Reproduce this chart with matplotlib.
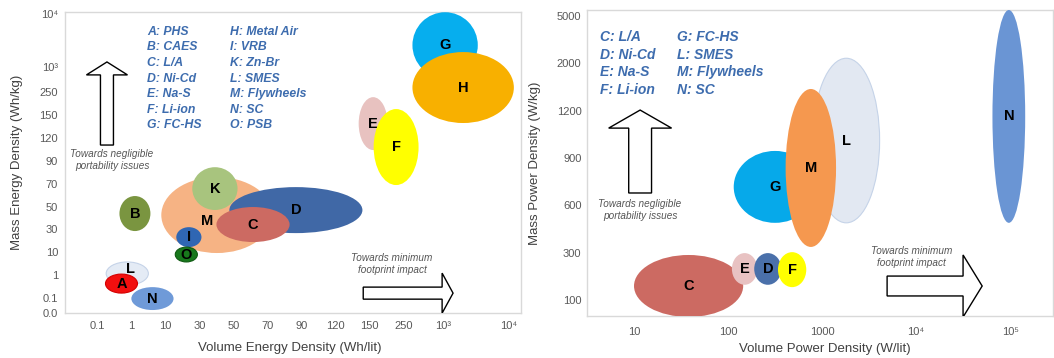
import numpy as np
import matplotlib
matplotlib.use('Agg')
import matplotlib.pyplot as plt
from matplotlib.patches import Ellipse, FancyArrow

plt.rcParams['font.family'] = ['Liberation Sans', 'DejaVu Sans']

# === Left chart: energy densities (axes are category-index scales) ===
energy_x_ticks = ['0.1', '1', '10', '30', '50', '70', '90', '120', '150', '250', '10³', '10⁴']
energy_x_pos = [1, 2, 3, 4, 5, 6, 7, 8, 9, 10, 11.15, 13.1]
energy_y_ticks = ['0.0', '0.1', '1', '10', '30', '50', '70', '90', '120', '150', '250', '10³', '10⁴']
energy_y_pos = [0.35, 1, 2, 3, 4, 5, 6, 7, 8, 9, 10, 11.1, 13.4]

# drawing order matters: later ones sit on top
energy_tech = ['B', 'M', 'K', 'D', 'C', 'I', 'O', 'L', 'A', 'N', 'E', 'F', 'G', 'H']
energy_x_lo = [1.65, 2.88, 3.79, 4.88, 4.50, 3.32, 3.29, 1.26, 1.24, 2.00, 8.68, 9.12, 10.26, 10.26]
energy_x_hi = [2.56, 6.15, 5.12, 8.79, 6.65, 4.06, 3.94, 2.50, 2.18, 3.24, 9.53, 10.44, 12.18, 13.24]
energy_y_lo = [3.93, 2.97, 4.85, 3.84, 3.45, 3.23, 2.58, 1.57, 1.22, 0.48, 7.47, 5.94, 10.61, 8.65]
energy_y_hi = [5.46, 6.29, 6.72, 5.85, 4.98, 4.10, 3.23, 2.58, 2.05, 1.48, 9.78, 9.26, 13.49, 11.75]
energy_label_at = {'M': (4.24, 4.37), 'L': (1.97, 2.27)}

energy_legend_1 = ['A: PHS', 'B: CAES', 'C: L/A', 'D: Ni-Cd', 'E: Na-S', 'F: Li-ion', 'G: FC-HS']
energy_legend_2 = ['H: Metal Air', 'I: VRB', 'K: Zn-Br', 'L: SMES', 'M: Flywheels', 'N: SC', 'O: PSB']

# === Right chart: power densities (x is W/lit on log axis, y category index) ===
power_x_ticks = ['10', '100', '1000', '10⁴', '10⁵']
power_x_vals = [10, 100, 1000, 1e4, 1e5]
power_y_ticks = ['100', '300', '600', '900', '1200', '2000', '5000']
power_y_pos = [0, 1, 2, 3, 4, 5, 6]

power_tech = ['L', 'G', 'M', 'N', 'C', 'E', 'D', 'F']
power_x_lo = [800, 115, 410, 65000, 10, 110, 190, 340]
power_x_hi = [4100, 870, 1410, 145000, 145, 205, 370, 680]
power_y_lo = [1.63, 1.63, 1.12, 1.63, -0.36, 0.32, 0.32, 0.27]
power_y_hi = [5.11, 3.15, 4.46, 6.13, 0.95, 0.99, 0.99, 1.01]

power_legend_1 = ['C: L/A', 'D: Ni-Cd', 'E: Na-S', 'F: Li-ion']
power_legend_2 = ['G: FC-HS', 'L: SMES', 'M: Flywheels', 'N: SC']

energy_colors = {'A': '#f20f0f', 'B': '#7a9540', 'C': '#cc6a62', 'D': '#4068a6',
                 'E': '#e8c2c0', 'F': '#ffff00', 'G': '#06aeee', 'H': '#f8b000',
                 'I': '#2f66b3', 'K': '#a8c47e', 'L': '#e4ebf5', 'M': '#f6b384',
                 'N': '#6f9ad8', 'O': '#18781c'}
power_colors = {'C': '#cc6a62', 'D': '#4a70aa', 'E': '#e8c2c2', 'F': '#ffff00',
                'G': '#06a9ea', 'L': '#e2e8f2', 'M': '#f5984f', 'N': '#6a95d4'}
edge_colors = {'L': '#c5d3e8', 'O': '#0f5a12', 'A': '#d40000'}

LEGEND_BLUE = '#3d6cae'
TEXT_GRAY = '#404040'


def style_axes(ax):
    """Light grey frame, no tick marks."""
    for sp in ax.spines.values():
        sp.set_color('#d9d9d9')
        sp.set_linewidth(1.0)
    ax.tick_params(length=0, colors='#595959')


def draw_ellipses(ax, names, xlo, xhi, ylo, yhi, colors, label_at=None):
    """Draw one ellipse per technology with its letter on top."""
    label_at = label_at or {}
    for i, (n, x0, x1, y0, y1) in enumerate(zip(names, xlo, xhi, ylo, yhi)):
        cx, cy = (x0 + x1) / 2, (y0 + y1) / 2
        ec = edge_colors.get(n, 'none')
        e = Ellipse((cx, cy), x1 - x0, y1 - y0, facecolor=colors[n],
                    edgecolor=ec, linewidth=0.8, zorder=2 + 2 * i)
        ax.add_patch(e)
        lx, ly = label_at.get(n, (cx, cy))
        ax.text(lx, ly, n, ha='center', va='center', fontsize=10.5,
                fontweight='bold', color='black', zorder=3 + 2 * i)


def draw_arrows(ax, up, right, up_text, right_text):
    """Hollow arrows and italic captions, in axes fraction coords."""
    x, y, dy, w, hw, hl = up
    ax.add_patch(FancyArrow(x, y, 0, dy, width=w, head_width=hw, head_length=hl,
                            length_includes_head=True, facecolor='white',
                            edgecolor='black', linewidth=1.0,
                            transform=ax.transAxes, zorder=40))
    x, y, dx, w, hw, hl = right
    ax.add_patch(FancyArrow(x, y, dx, 0, width=w, head_width=hw, head_length=hl,
                            length_includes_head=True, facecolor='white',
                            edgecolor='black', linewidth=1.0,
                            transform=ax.transAxes, zorder=40))
    for (tx, ty), s in [up_text, right_text]:
        ax.text(tx, ty, s, transform=ax.transAxes, ha='center', va='center',
                fontsize=7.2, style='italic', color='#555555', linespacing=1.25)


def draw_legend(ax, col1, col2, x1, x2, y0, step, size):
    for col, x in [(col1, x1), (col2, x2)]:
        for k, s in enumerate(col):
            ax.text(x, y0 - k * step, s, transform=ax.transAxes, ha='left',
                    va='center', fontsize=size, fontweight='bold',
                    style='italic', color=LEGEND_BLUE, zorder=50)


def plot_energy(fig):
    ax = fig.add_axes([65 / 1054, 1 - 313 / 358, 456 / 1054, 301 / 358])
    style_axes(ax)
    draw_ellipses(ax, energy_tech, energy_x_lo, energy_x_hi, energy_y_lo,
                  energy_y_hi, energy_colors, energy_label_at)
    ax.set_xlim(0.05, 13.45)
    ax.set_ylim(0.35, 13.5)
    ax.set_xticks(energy_x_pos)
    ax.set_xticklabels(energy_x_ticks, fontsize=8)
    ax.set_yticks(energy_y_pos)
    ax.set_yticklabels(energy_y_ticks, fontsize=8)
    ax.tick_params(axis='x', pad=6)
    ax.tick_params(axis='y', pad=5)
    ax.set_xlabel('Volume Energy Density (Wh/lit)', fontsize=9.5, color=TEXT_GRAY)
    ax.set_ylabel('Mass Energy Density (Wh/kg)', fontsize=9.5, color=TEXT_GRAY)
    ax.xaxis.set_label_coords(0.493, -0.098)
    ax.yaxis.set_label_coords(-0.092, 0.5)
    draw_arrows(ax, (0.092, 0.558, 0.276, 0.0285, 0.09, 0.043),
                (0.654, 0.066, 0.197, 0.040, 0.133, 0.024),
                ((0.103, 0.508), 'Towards negligible\nportability issues'),
                ((0.717, 0.163), 'Towards minimum\nfootprint impact'))
    draw_legend(ax, energy_legend_1, energy_legend_2, 0.180, 0.362, 0.934, 0.0518, 8.8)


def plot_power(fig):
    ax = fig.add_axes([587 / 1054, 1 - 316 / 358, 466 / 1054, 306 / 358])
    style_axes(ax)
    draw_ellipses(ax, power_tech, np.log10(power_x_lo), np.log10(power_x_hi),
                  power_y_lo, power_y_hi, power_colors)
    ax.set_xlim(0.5, 5.457)
    ax.set_ylim(-0.34, 6.13)
    ax.set_xticks(np.log10(power_x_vals))
    ax.set_xticklabels(power_x_ticks, fontsize=8)
    ax.set_yticks(power_y_pos)
    ax.set_yticklabels(power_y_ticks, fontsize=8)
    ax.tick_params(axis='x', pad=8)
    ax.tick_params(axis='y', pad=4)
    ax.set_xlabel('Volume Power Density (W/lit)', fontsize=9.5, color=TEXT_GRAY)
    ax.set_ylabel('Mass Power Density (W/kg)', fontsize=9.5, color=TEXT_GRAY)
    ax.xaxis.set_label_coords(0.51, -0.088)
    ax.yaxis.set_label_coords(-0.099, 0.5)
    draw_arrows(ax, (0.114, 0.402, 0.271, 0.049, 0.135, 0.059),
                (0.644, 0.098, 0.204, 0.065, 0.203, 0.041),
                ((0.114, 0.346), 'Towards negligible\nportability issues'),
                ((0.697, 0.193), 'Towards minimum\nfootprint impact'))
    draw_legend(ax, power_legend_1, power_legend_2, 0.028, 0.193, 0.912, 0.0578, 10)


def main():
    fig = plt.figure(figsize=(10.54, 3.58), dpi=100)
    plot_energy(fig)
    plot_power(fig)
    fig.savefig('out.png', dpi=100)
    plt.close(fig)


if __name__ == "__main__":
    main()
